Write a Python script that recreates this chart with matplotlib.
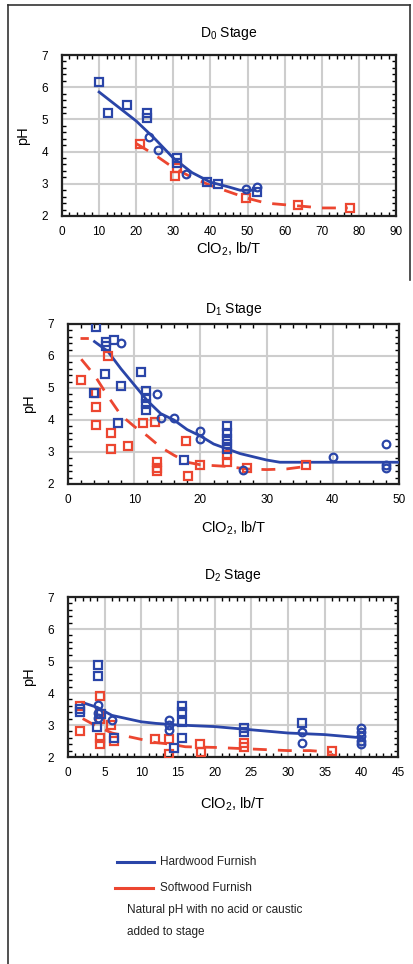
import matplotlib
matplotlib.use("Agg")
import matplotlib.pyplot as plt
from matplotlib.lines import Line2D
from matplotlib.ticker import MultipleLocator

plt.rcParams['font.family'] = ['Liberation Sans', 'DejaVu Sans']
plt.rcParams['mathtext.fontset'] = 'custom'
plt.rcParams['mathtext.rm'] = 'Liberation Sans'
plt.rcParams['mathtext.it'] = 'Liberation Sans'

BLUE = '#2a45a8'
RED = '#ec4630'

# ---------------- D0 stage ----------------
d0_hw_sq_x = [10, 12.5, 17.5, 23, 23, 31, 31, 39, 42, 52.5]
d0_hw_sq_y = [6.15, 5.2, 5.45, 5.2, 5.05, 3.8, 3.65, 3.05, 3.0, 2.75]
d0_hw_ci_x = [23.5, 26, 33.5, 49.5, 52.5]
d0_hw_ci_y = [4.45, 4.05, 3.3, 2.85, 2.9]
d0_hw_fit_x = [10, 15, 20, 25, 30, 35, 40, 45, 48, 52]
d0_hw_fit_y = [5.85, 5.4, 4.95, 4.4, 3.8, 3.35, 3.05, 2.9, 2.8, 2.8]
d0_sw_sq_x = [21, 30.5, 31, 49.5, 63.5, 77.5]
d0_sw_sq_y = [4.25, 3.25, 3.5, 2.55, 2.35, 2.25]
d0_sw_fit_x = [20, 25, 30, 35, 40, 45, 50, 55, 60, 65, 70, 77]
d0_sw_fit_y = [4.25, 3.9, 3.5, 3.2, 2.95, 2.75, 2.55, 2.4, 2.35, 2.3, 2.25, 2.25]

# ---------------- D1 stage ----------------
d1_hw_sq_x = [4.2, 5.7, 5.7, 7, 5.6, 11, 8, 4, 11.8, 11.8, 11.8, 11.8, 7.5, 17.5,
              24, 24, 24, 24, 24]
d1_hw_sq_y = [6.9, 6.45, 6.3, 6.5, 5.45, 5.5, 5.05, 4.85, 4.9, 4.7, 4.5, 4.3, 3.9, 2.75,
              3.8, 3.6, 3.4, 3.25, 3.1]
d1_hw_ci_x = [8, 13.5, 14, 16, 20, 20, 26.5, 40, 48, 48, 48]
d1_hw_ci_y = [6.4, 4.8, 4.05, 4.05, 3.65, 3.4, 2.45, 2.85, 3.25, 2.6, 2.5]
d1_hw_fit_x = [4, 6, 8, 10, 12, 14, 16, 18, 20, 22, 24, 26, 28, 30, 32, 50]
d1_hw_fit_y = [6.45, 6.15, 5.6, 5.1, 4.6, 4.2, 4.0, 3.7, 3.5, 3.25, 3.1, 2.95, 2.85,
               2.75, 2.68, 2.68]
d1_sw_sq_x = [2, 4.2, 4.2, 4.2, 6, 6.5, 6.5, 9, 11.3, 13.1, 13.5, 13.5, 13.5, 17.8,
              18.2, 20, 24, 24, 27, 36]
d1_sw_sq_y = [5.25, 4.85, 4.4, 3.85, 6.0, 3.6, 3.1, 3.2, 3.9, 3.95, 2.7, 2.5, 2.4, 3.35,
              2.25, 2.6, 2.9, 2.7, 2.5, 2.6]
d1_sw_fit_x = [2, 4, 6, 8, 10, 12, 14, 16, 18, 20, 24, 27, 30, 33, 36]
d1_sw_fit_y = [5.9, 5.4, 4.75, 4.15, 3.8, 3.5, 3.15, 2.9, 2.68, 2.6, 2.55, 2.47, 2.45,
               2.47, 2.55]
d1_sw_top_x = [1.8, 4.5]
d1_sw_top_y = [6.55, 6.55]

# ---------------- D2 stage ----------------
d2_hw_sq_x = [1.6, 1.6, 4.05, 4.05, 4.0, 4.5, 6.3, 14.4, 15.6, 15.6, 15.6, 15.6,
              24, 24, 31.9]
d2_hw_sq_y = [3.5, 3.42, 4.88, 4.53, 2.95, 3.35, 2.6, 2.28, 3.6, 3.4, 3.1, 2.6,
              2.92, 2.77, 3.05]
d2_hw_ci_x = [4.05, 4.05, 4.05, 6, 13.8, 13.8, 13.8, 31.9, 31.9, 40, 40, 40, 40, 40]
d2_hw_ci_y = [3.62, 3.36, 3.23, 3.15, 3.15, 3.0, 2.85, 2.77, 2.45, 2.9, 2.78, 2.65,
              2.5, 2.4]
d2_hw_fit_x = [2, 4, 6, 8, 10, 12, 15, 20, 25, 30, 35, 40]
d2_hw_fit_y = [3.7, 3.55, 3.3, 3.2, 3.1, 3.05, 3.0, 2.95, 2.85, 2.75, 2.7, 2.6]
d2_sw_sq_x = [1.7, 1.7, 4.3, 4.3, 4.3, 4.3, 4.3, 5.8, 6.3, 11.9, 13.8, 13.8, 18, 18.2,
              24, 24, 36]
d2_sw_sq_y = [3.6, 2.8, 3.9, 3.35, 3.2, 2.6, 2.4, 3.0, 2.5, 2.55, 2.55, 2.1, 2.4, 2.15,
              2.45, 2.3, 2.2]
d2_sw_fit_x = [2, 4, 6, 8, 10, 12, 14, 16, 20, 25, 30, 33, 36]
d2_sw_fit_y = [3.2, 2.95, 2.75, 2.65, 2.55, 2.45, 2.4, 2.32, 2.3, 2.25, 2.2, 2.2, 2.15]

W, H = 413, 964
fig = plt.figure(figsize=(W / 100, H / 100), dpi=100)
fig.patch.set_facecolor('white')


def add_ax(left, top, right, bottom):
    return fig.add_axes([left / W, 1 - bottom / H, (right - left) / W, (bottom - top) / H])


def style(ax, xmax, xmaj, xmin, title, title_pad, xlabel_pad):
    ax.set_xlim(0, xmax)
    ax.set_ylim(2, 7)
    ax.xaxis.set_major_locator(MultipleLocator(xmaj))
    ax.xaxis.set_minor_locator(MultipleLocator(xmin))
    ax.yaxis.set_major_locator(MultipleLocator(1))
    ax.yaxis.set_minor_locator(MultipleLocator(0.2))
    ax.grid(True, which='major', color='#cdcdcd', lw=1.5)
    ax.set_axisbelow(True)
    ax.tick_params(which='both', direction='in', top=True, right=True, labelsize=8.5,
                   colors='black', width=1.0)
    ax.tick_params(which='major', length=0)
    ax.tick_params(which='minor', length=3)
    ax.tick_params(axis='x', pad=7)
    ax.tick_params(axis='y', pad=10)
    for s in ax.spines.values():
        s.set_linewidth(1.6)
        s.set_color('#222222')
    ax.set_title(title, fontsize=10, pad=title_pad)
    ax.set_ylabel('pH', fontsize=10.5, labelpad=8)
    ax.set_xlabel('ClO$_2$, lb/T', fontsize=10.5, labelpad=xlabel_pad)


mk = dict(ls='none', mfc='none', ms=5.5, mew=1.6, zorder=4)

# D0
ax1 = add_ax(62, 55, 396, 216)
style(ax1, 90, 10, 2, 'D$_0$ Stage', 13, 2)
ax1.plot(d0_sw_fit_x, d0_sw_fit_y, color=RED, lw=2, dashes=(5, 4), zorder=3)
ax1.plot(d0_hw_fit_x, d0_hw_fit_y, color=BLUE, lw=2, zorder=3)
ax1.plot(d0_sw_sq_x, d0_sw_sq_y, marker='s', mec=RED, **mk)
ax1.plot(d0_hw_sq_x, d0_hw_sq_y, marker='s', mec=BLUE, **mk)
ax1.plot(d0_hw_ci_x, d0_hw_ci_y, marker='o', mec=BLUE, **mk)

# D1
ax2 = add_ax(68, 324, 399, 484)
style(ax2, 50, 10, 2, 'D$_1$ Stage', 8, 10)
ax2.plot(d1_sw_fit_x, d1_sw_fit_y, color=RED, lw=2, dashes=(5, 4), zorder=3)
ax2.plot(d1_sw_top_x, d1_sw_top_y, color=RED, lw=2, dashes=(3, 5), zorder=3)
ax2.plot(d1_hw_fit_x, d1_hw_fit_y, color=BLUE, lw=2, zorder=3)
ax2.plot(d1_sw_sq_x, d1_sw_sq_y, marker='s', mec=RED, **mk)
ax2.plot(d1_hw_sq_x, d1_hw_sq_y, marker='s', mec=BLUE, **mk)
ax2.plot(d1_hw_ci_x, d1_hw_ci_y, marker='o', mec=BLUE, **mk)

# D2
ax3 = add_ax(68, 597, 398, 757)
style(ax3, 45, 5, 1, 'D$_2$ Stage', 13, 12)
ax3.plot(d2_sw_fit_x, d2_sw_fit_y, color=RED, lw=2, dashes=(5, 4), zorder=3)
ax3.plot(d2_hw_fit_x, d2_hw_fit_y, color=BLUE, lw=2, zorder=3)
ax3.plot(d2_sw_sq_x, d2_sw_sq_y, marker='s', mec=RED, **mk)
ax3.plot(d2_hw_sq_x, d2_hw_sq_y, marker='s', mec=BLUE, **mk)
ax3.plot(d2_hw_ci_x, d2_hw_ci_y, marker='o', mec=BLUE, **mk)

# Legend block
def fx(px):
    return px / W


def fy(py):
    return 1 - py / H


fig.add_artist(Line2D([fx(117), fx(154)], [fy(862), fy(862)], color=BLUE, lw=2.2))
fig.add_artist(Line2D([fx(115), fx(153)], [fy(888), fy(888)], color=RED, lw=2.2))
fig.text(fx(160), fy(862), 'Hardwood Furnish', fontsize=8.5, va='center', ha='left',
         color='#222222')
fig.text(fx(160), fy(888), 'Softwood Furnish', fontsize=8.5, va='center', ha='left',
         color='#222222')
fig.text(fx(127), fy(910), 'Natural pH with no acid or caustic', fontsize=8.5,
         va='center', ha='left', color='#222222')
fig.text(fx(127), fy(932), 'added to stage', fontsize=8.5, va='center', ha='left',
         color='#222222')

# Outer frame
fig.add_artist(Line2D([fx(8), fx(8)], [fy(5), fy(964)], color='#333333', lw=1.2))
fig.add_artist(Line2D([fx(8), fx(410)], [fy(5), fy(5)], color='#333333', lw=1.2))
fig.add_artist(Line2D([fx(410), fx(410)], [fy(5), fy(280)], color='#333333', lw=1.2))

fig.savefig('out.png', dpi=100, facecolor='white')
